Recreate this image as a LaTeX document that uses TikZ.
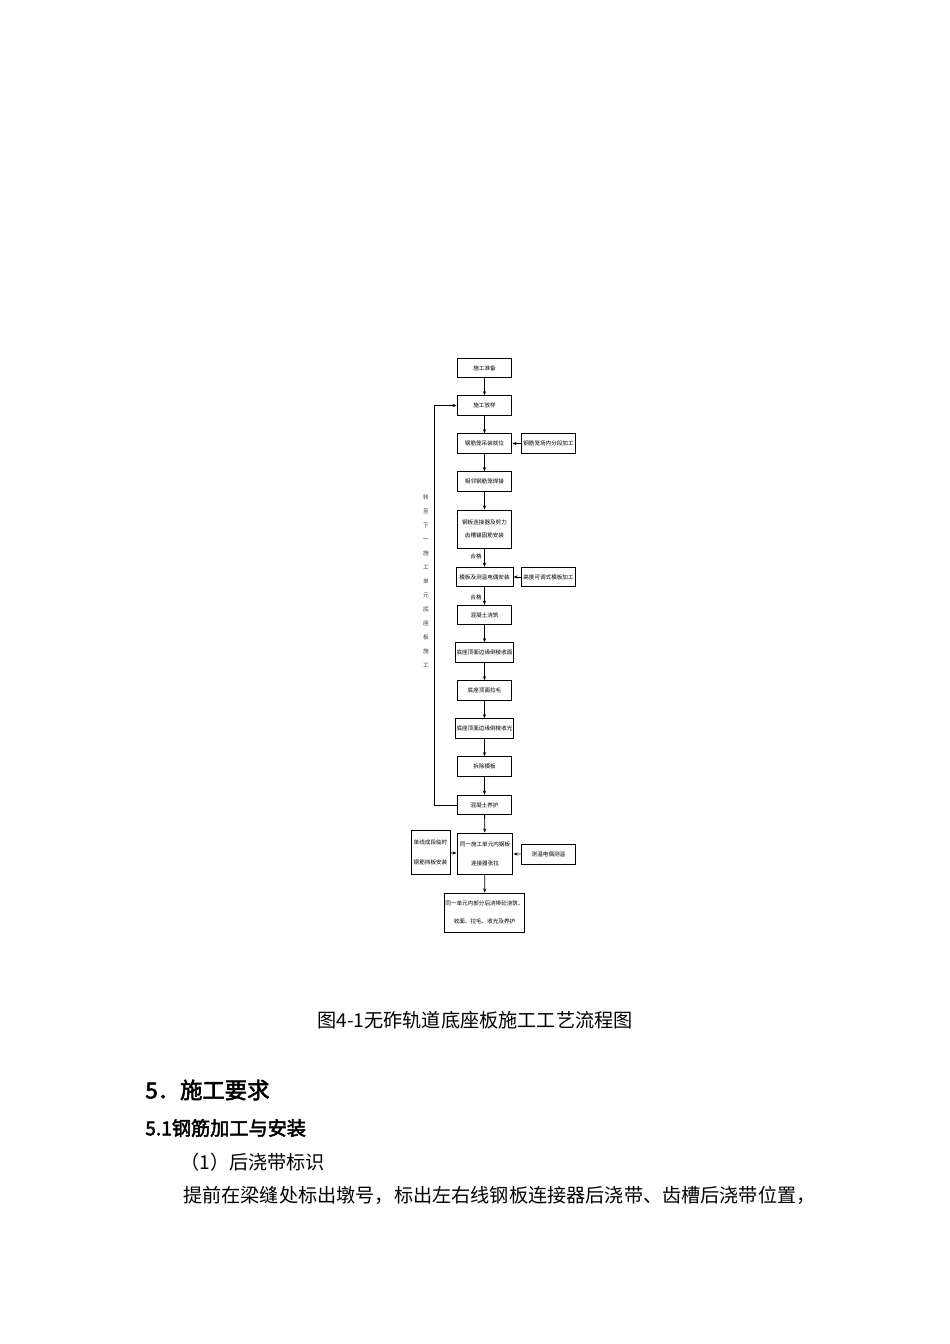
\documentclass[tikz,border=0pt]{standalone}
\usepackage{fontspec}
\newfontfamily\cjk[AutoFakeBold=2.5]{Noto Sans CJK SC}
\usetikzlibrary{arrows.meta}
\tikzset{
  box/.style={draw, line width=0.6pt, minimum width=34.4pt, minimum height=12.2pt,
    inner sep=0.5pt, align=center, font=\cjk\fontsize{3.5}{4.5}\selectfont},
  lab/.style={inner sep=0pt, font=\cjk\fontsize{3.5}{4.5}\selectfont},
  arr/.style={-{Stealth[length=2.6pt,width=2pt]}, line width=0.5pt},
  txt/.style={inner sep=0pt, anchor=west, font=\cjk\fontsize{12}{14}\selectfont},
}
\begin{document}
\begin{tikzpicture}[x=0.6263pt, y=-0.6263pt]
    \useasboundingbox (0,0) rectangle (950,1344);

    % main column
    \node[box] (prep) at (484.5,368) {施工准备};
    \node[box] (stake) at (484.5,405.5) {施工放样};
    \node[box] (cage) at (484.5,443.5) {钢筋笼吊装就位};
    \node[box] (weld) at (484.5,481.5) {相邻钢筋笼焊接};
    \node[box, minimum height=23.8pt] (conn) at (484.5,529) {钢板连接器及剪力\\[4pt]齿槽锚固筋安装};
    \node[box, minimum width=35.7pt] (form) at (484.5,577) {模板及测温电偶安装};
    \node[box] (pour) at (484.5,615) {混凝土浇筑};
    \node[box, minimum width=35.7pt] (edgeA) at (484.5,652.5) {底座顶面边缘倒棱收面};
    \node[box] (rough) at (484.5,690.5) {底座顶面拉毛};
    \node[box, minimum width=35.7pt] (edgeB) at (484.5,728.5) {底座顶面边缘倒棱收光};
    \node[box] (strip) at (484.5,766.5) {拆除模板};
    \node[box] (cure) at (484.5,805) {混凝土养护};
    \node[box, minimum width=35pt, minimum height=25.7pt] (tens) at (485,853.5) {同一施工单元内钢板\\[7.5pt]连接器张拉};
    \node[box, minimum width=48.2pt, minimum height=24.4pt] (post) at (484.5,912.5) {同一单元内部分后浇带砼浇筑、\\[7pt]收面、拉毛、收光及养护};

    % side boxes
    \node[box] (cageshop) at (548.5,443.5) {钢筋笼场内分段加工};
    \node[box] (formshop) at (548.5,577) {高度可调式模板加工};
    \node[box, minimum width=24.4pt, minimum height=27pt] (stop) at (430.5,852.5) {单线成段临时\\[8pt]钢筋挡板安装};
    \node[box] (temp) at (548.5,854.5) {测温电偶测温};

    \node[lab] (okA) at (476,556) {合格};
    \node[lab] (okB) at (476,597) {合格};
    \node[lab, align=center, text=black!75, font=\cjk\fontsize{3.6}{8.8}\selectfont] (next) at (426,581)
        {转\\至\\下\\一\\施\\工\\单\\元\\底\\座\\板\\施\\工};

    \draw[arr] (prep) -- (stake);
    \draw[arr] (stake) -- (cage);
    \draw[arr] (cage) -- (weld);
    \draw[arr] (weld) -- (conn);
    \draw[arr] (conn) -- (form);
    \draw[arr] (form) -- (pour);
    \draw[arr] (pour) -- (edgeA);
    \draw[arr] (edgeA) -- (rough);
    \draw[arr] (rough) -- (edgeB);
    \draw[arr] (edgeB) -- (strip);
    \draw[arr] (strip) -- (cure);
    \draw[arr] (cure) -- (tens);
    \draw[arr] (tens) -- (post);
    \draw[arr] (cageshop) -- (cage);
    \draw[arr] (formshop) -- (form);
    \draw[arr] (stop) -- (tens);
    \draw[arr] (temp) -- (tens);

    % loop back to the next unit
    \coordinate (back) at (434,805);
    \draw[arr] (cure.west) -- (back) |- (stake.west);

    % page text
    \node[inner sep=0pt, font=\cjk\fontsize{12}{14}\selectfont] (cap) at (475,1020) {图4-1无砟轨道底座板施工工艺流程图};
    \node[txt, font=\cjk\bfseries\fontsize{14}{16}\selectfont] (sec) at (145,1090) {5．施工要求};
    \node[txt, font=\cjk\bfseries\fontsize{12}{14}\selectfont] (sub) at (145,1128) {5.1钢筋加工与安装};
    \node[txt] (item) at (180,1162) {（1）后浇带标识};
    \node[txt] (para) at (183,1195) {提前在梁缝处标出墩号，标出左右线钢板连接器后浇带、齿槽后浇带位置，};
\end{tikzpicture}
\end{document}
